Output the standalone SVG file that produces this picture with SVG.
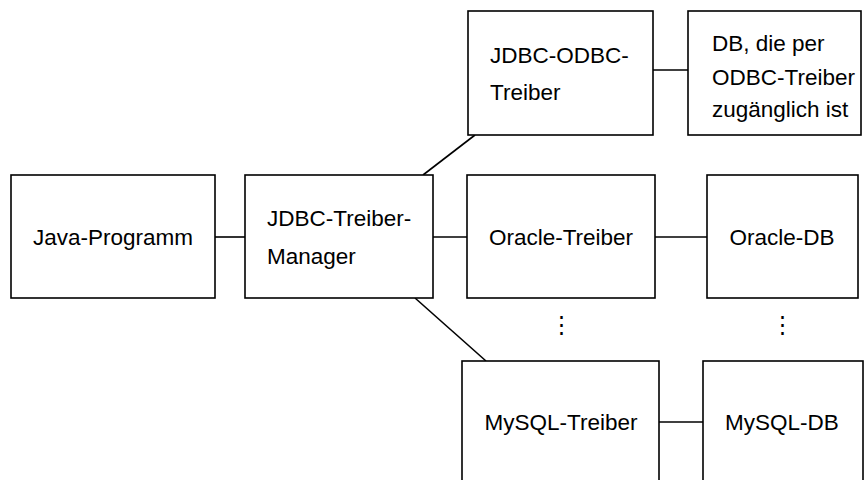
<svg xmlns="http://www.w3.org/2000/svg" width="865" height="480" viewBox="0 0 865 480">
<style>
.n{fill:#fff;stroke:#000;stroke-width:1.6}
line{stroke:#000;stroke-width:1.6}
text{font-family:"Liberation Sans",Arial,sans-serif;font-size:22.5px;fill:#000}
.c{text-anchor:middle}
</style>
<rect width="865" height="480" fill="#fff"/>
<g id="connectors">
<line x1="215" y1="237" x2="245" y2="237"/>
<line x1="433" y1="237" x2="467" y2="237"/>
<line x1="655" y1="237" x2="707" y2="237"/>
<line x1="653" y1="70" x2="688" y2="70"/>
<line x1="659" y1="422" x2="703" y2="422"/>
<line x1="423" y1="175" x2="475" y2="135"/>
<line x1="415" y1="298" x2="486" y2="361"/>
</g>
<g id="java"><rect class="n" x="11" y="175" width="204" height="123"/><text class="c" x="113" y="245">Java-Programm</text></g>
<g id="manager"><rect class="n" x="245" y="175" width="188" height="123"/><text x="267" y="226">JDBC-Treiber-</text><text x="267" y="264">Manager</text></g>
<g id="odbc"><rect class="n" x="468" y="11" width="185" height="124"/><text x="490" y="63">JDBC-ODBC-</text><text x="490" y="100">Treiber</text></g>
<g id="odbcdb"><rect class="n" x="688" y="11" width="173" height="124"/><text x="712" y="51">DB, die per</text><text x="712" y="85">ODBC-Treiber</text><text x="712" y="117">zugänglich ist</text></g>
<g id="oracle"><rect class="n" x="467" y="175" width="188" height="123"/><text class="c" x="561" y="245">Oracle-Treiber</text></g>
<g id="oracledb"><rect class="n" x="707" y="175" width="151" height="123"/><text class="c" x="782" y="245">Oracle-DB</text></g>
<g id="dots1"><text class="c" x="561" y="332">⋮</text></g>
<g id="dots2"><text class="c" x="782" y="332">⋮</text></g>
<g id="mysql"><rect class="n" x="462" y="361" width="197" height="130"/><text class="c" x="561" y="430">MySQL-Treiber</text></g>
<g id="mysqldb"><rect class="n" x="703" y="361" width="160" height="130"/><text class="c" x="782" y="430">MySQL-DB</text></g>
</svg>
